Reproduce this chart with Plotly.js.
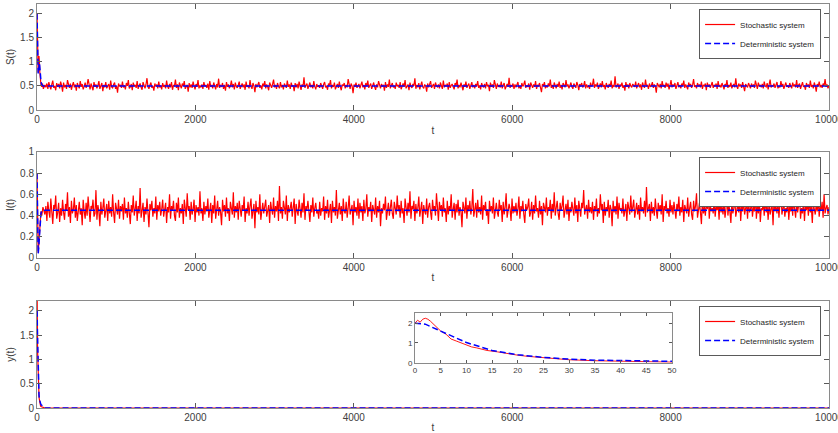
<!DOCTYPE html>
<html>
<head>
<meta charset="utf-8">
<script src="https://cdn.plot.ly/plotly-3.0.1.min.js"></script>
<style>
  html, body { margin: 0; padding: 0; background: #fff; }
  #myDiv { width: 838px; height: 433px; }
</style>
</head>
<body>
<div id="myDiv"></div>
<script>
// early transient of the stochastic S(t) path
let sStartT = [0, 3, 6, 10, 15, 20, 25, 30, 35, 40, 50, 60, 70, 80, 90];
let sStart = [2.0, 1.6, 1.1, 0.85, 0.78, 0.95, 1.12, 1.0, 0.8, 0.62, 0.52, 0.48, 0.55, 0.44, 0.5];

// stochastic S(t) from t = 100 to t = 10000, evenly spaced, in hundredths
let sNoise = [
  52,47,55,44,58,49,43,53,61,46,50,41,56,48,54,45,59,51,38,57,47,52,44,62,49,46,55,42,51,58,47,53,40,56,50,45,60,48,54,43,
  49,57,46,52,64,47,43,55,50,41,58,48,53,45,51,60,44,49,56,39,52,47,58,45,50,54,42,61,48,46,53,57,44,50,36,55,49,52,46,59,
  47,51,43,56,50,62,45,48,54,41,57,49,52,46,60,44,51,55,47,42,58,50,45,53,66,48,44,52,57,46,50,40,55,49,53,45,59,47,51,43,
  56,48,52,45,61,49,44,54,47,58,42,51,50,63,46,53,41,57,48,45,55,50,60,44,49,52,38,56,47,53,46,59,50,43,54,48,62,45,51,47,
  53,44,58,49,51,46,55,42,60,48,52,45,57,50,43,54,47,65,46,51,49,56,44,52,40,58,48,53,45,50,61,47,54,43,57,49,46,52,59,44,
  50,55,47,53,42,59,48,51,45,62,49,44,56,50,37,54,47,52,58,46,51,43,55,49,60,45,53,48,41,57,50,46,54,63,47,52,44,56,49,45,
  58,47,52,43,55,50,46,61,48,53,44,57,49,51,39,56,47,54,45,59,50,42,53,48,68,46,51,55,44,50,57,47,52,45,60,49,43,54,48,51,
  46,56,50,44,53,58,47,49,42,55,51,62,45,52,48,57,43,50,54,46,59,48,41,53,50,56,45,52,47,64,49,44,55,50,35,53,48,57,46,51,
  54,45,50,59,47,52,43,56,49,61,46,51,55,44,50,57,48,42,53,47,60,50,45,54,49,52,40,58,46,53,48,63,45,51,56,47,50,44,57,49,
  52,46,58,43,51,55,48,62,45,50,53,41,57,49,46,54,50,66,44,52,47,56,43,51,59,48,45,53,50,38,55,47,52,60,46,49,54,44,57,50,
  48,53,45,57,50,44,61,47,52,49,55,42,58,46,51,54,48,43,56,50,63,45,52,47,57,49,41,53,48,59,46,51,55,44,50,58,47,52,45,54,
  49,60,46,51,43,56,50,47,54,45,58,49,52,39,57,48,53,46,62,50,44,55,48,51,47,59,45,52,56,43,50,54,48,67,46,51,49,55,44,53,
  47,52,58,45,50,44,56,49,53,61,46,51,48,55,42,57,50,46,53,48,60,44,52,49,56,47,37,54,50,58,45,51,47,55,49,63,46,52,44,57,
  50,45,54,48,59,46,52,43,56,50,47,62,49,53,45,51,57,48,44,55,50,46,58,52,41,54,49,56,47,51,60,45,53,48,50,44,57,49,52,65,
  46,53,49,57,44,51,55,47,60,48,52,43,56,50,46,54,49,61,45,52,48,70,47,50,55,44,53,49,57,46,51,40,58,48,53,45,56,50,47,54,
  52,48,59,45,51,56,47,53,42,57,50,46,63,49,52,44,55,48,51,58,46,53,49,36,56,50,47,54,45,60,49,52,46,57,48,55,43,51,62,47,
  53,49,56,44,51,58,47,52,45,55,50,61,46,53,48,43,57,50,54,46,52,64,48,51,45,56,49,53,47,59,44,52,50,55,41,57,48,53,46,51,
  58,46,52,49,55,44,60,48,51,47,56,50,43,54,49,62,46,52,48,57,45,51,53,47,66,49,44,55,50,52,46,58,48,39,54,50,47,56,51,45,
  55,48,53,46,61,50,44,57,49,52,47,54,45,59,50,48,56,43,52,63,47,51,49,55,46,53,58,45,50,47,60,49,54,44,52,57,48,51,46,56,
  50,45,57,49,53,47,62,46,52,55,44,51,58,48,50,42,56,49,53,46,61,48,52,45,57,50,38,54,49,59,47,52,46,55,50,64,48,53,45,51
];

// deterministic S(t)
let sDetT = [0, 3, 6, 10, 15, 20, 25, 30, 35, 40, 50, 60, 80, 100, 10000];
let sDet = [2.0, 1.55, 1.1, 0.85, 0.76, 0.8, 0.92, 0.98, 0.9, 0.75, 0.6, 0.52, 0.5, 0.5, 0.5];

// early transient of the stochastic I(t) path
let iStartT = [0, 3, 6, 10, 15, 20, 30, 40, 50, 60, 75];
let iStart = [0.8, 0.45, 0.2, 0.06, 0.05, 0.1, 0.25, 0.38, 0.44, 0.4, 0.48];

// stochastic I(t) from t = 100 to t = 10000, in hundredths
let iNoise = [
  41,49,35,53,44,38,56,42,32,50,46,59,37,43,52,34,47,40,55,43,36,51,45,62,39,48,33,54,42,46,57,38,50,35,44,53,41,47,31,55,
  44,37,52,40,58,43,34,49,46,55,39,42,64,36,50,44,30,53,41,47,56,38,45,51,35,54,42,48,39,60,43,33,52,46,41,55,37,49,44,51,
  36,57,42,47,38,53,45,32,50,43,59,40,46,54,35,49,42,66,38,44,52,34,48,41,56,43,29,51,45,54,39,47,42,58,36,50,44,53,40,46,
  55,39,44,52,33,48,43,60,37,49,45,54,40,35,52,43,57,38,47,42,51,32,55,44,39,61,45,49,36,53,41,46,55,34,50,43,48,40,63,42,
  47,35,53,41,49,44,56,38,45,52,33,50,42,59,37,46,54,40,48,43,31,55,44,50,39,57,42,47,35,53,45,41,62,38,49,43,52,36,54,44,
  39,50,45,58,34,47,42,53,40,49,56,37,44,51,28,54,43,48,41,60,36,45,52,42,47,55,39,43,50,33,53,46,41,57,38,49,44,54,35,68,
  42,48,37,54,45,41,59,35,50,43,47,53,39,46,56,32,51,44,40,55,47,38,52,43,61,36,49,45,54,41,34,50,43,57,39,47,52,42,45,37,
  53,40,47,44,58,36,49,42,55,38,45,51,33,54,43,48,40,64,37,46,52,41,49,35,56,44,42,53,38,47,59,41,45,50,31,54,43,48,40,56,
  37,52,43,49,35,55,42,46,60,39,48,44,53,34,50,45,41,57,38,49,43,54,30,47,42,51,45,58,36,44,52,40,48,55,42,37,53,46,41,59,
  44,50,38,54,42,47,33,56,45,40,52,43,63,37,49,46,54,35,51,42,47,58,39,45,53,32,50,44,41,56,38,48,52,43,36,55,45,49,40,61,
  42,35,53,45,50,39,57,43,47,34,54,41,49,45,60,38,46,52,36,51,43,55,40,48,44,29,53,46,42,57,37,50,44,54,41,47,65,39,45,52,
  38,55,43,48,41,59,36,50,45,53,40,46,32,54,44,49,42,57,37,47,52,43,39,55,45,50,34,53,41,48,61,38,44,51,46,35,56,42,49,43,
  52,40,46,58,37,49,44,54,41,33,51,45,48,56,39,43,53,36,50,42,59,44,47,38,54,41,49,31,52,46,43,57,40,48,45,55,37,51,43,62,
  40,47,54,42,36,52,45,49,59,38,44,51,41,55,35,48,43,53,46,40,57,42,50,34,54,45,39,52,47,64,41,46,50,37,55,43,48,42,53,36,
  49,44,56,39,47,42,60,45,51,33,53,40,48,44,55,38,50,46,30,54,43,49,41,58,37,52,45,47,42,56,39,44,51,35,53,47,41,59,43,48,
  55,38,45,52,41,50,36,57,44,48,42,54,39,67,43,46,51,35,53,42,48,40,56,45,37,52,44,50,41,60,34,49,45,54,42,47,39,55,43,50,
  41,53,46,37,51,44,58,40,48,43,55,34,50,45,42,57,39,47,53,41,36,54,44,49,61,38,45,52,43,32,55,42,48,40,53,46,59,37,50,44,
  47,42,55,39,49,45,52,36,57,43,48,41,54,38,46,63,40,50,44,33,53,42,47,56,39,45,51,43,58,35,49,44,54,41,47,52,37,55,43,46,
  53,39,48,44,60,37,50,42,55,34,47,45,52,40,58,43,49,36,54,41,46,51,31,56,44,48,42,53,38,50,65,41,45,52,39,47,43,57,36,49,
  44,51,40,55,46,38,53,43,49,59,37,47,42,54,35,50,45,52,40,57,43,48,33,54,46,41,51,44,56,39,49,45,53,38,60,42,47,50,41,48
];

// deterministic I(t)
let iDetT = [0, 3, 6, 10, 15, 20, 30, 40, 50, 60, 80, 100, 10000];
let iDet = [0.8, 0.45, 0.18, 0.05, 0.04, 0.08, 0.22, 0.36, 0.42, 0.445, 0.45, 0.45, 0.45];

// y(t), stochastic and deterministic (plus the flat tail)
let yStochT = [0, 0.5, 1, 1.5, 2, 2.5, 3, 4, 5, 6, 7, 8, 9, 10, 11, 12, 14, 16, 18, 20, 22, 25, 28, 30, 35, 40, 45, 50, 100, 10000];
let yStoch = [2.0, 2.15, 2.05, 2.2, 2.25, 2.2, 2.1, 1.85, 1.6, 1.45, 1.2, 1.1, 1.0, 0.92, 0.8, 0.75, 0.62, 0.55, 0.45, 0.38, 0.32, 0.25, 0.19, 0.15, 0.1, 0.07, 0.04, 0.03, 0.0, 0.0];
let yDetT = [0, 2, 5, 10, 15, 20, 25, 30, 35, 40, 45, 50, 100, 10000];
let yDet = [2.0, 1.95, 1.6, 1.02, 0.62, 0.4, 0.27, 0.18, 0.13, 0.1, 0.08, 0.07, 0.0, 0.0];

let xTicks = [0, 2000, 4000, 6000, 8000, 10000];
let xTickText = ["0", "2000", "4000", "6000", "8000", "10000"];
let insetTicks = [0, 5, 10, 15, 20, 25, 30, 35, 40, 45, 50];

// time grid for the noisy part (100 .. 10000)
function noiseTimes(n) {
  let t = [];
  for (let i = 0; i < n; i++) t.push(100 + (9900 * i) / (n - 1));
  return t;
}

let sT = sStartT.concat(noiseTimes(sNoise.length));
let sY = sStart.concat(sNoise.map((v) => v / 100));
let iT = iStartT.concat(noiseTimes(iNoise.length));
let iY = iStart.concat(iNoise.map((v) => v / 100));

// fresh line objects per trace so plotly doesn't share state between them
// (width 1.2: at exactly 1px the legend sample in the 3rd panel renders dark)
function red(w) {
  return { color: "#ff0000", width: w || 1.2 };
}
function blue() {
  return { color: "#0000ff", width: 1.5, dash: "6px,3px" };
}

let data = [
  { x: sT, y: sY, xaxis: "x", yaxis: "y", mode: "lines", line: red(), name: "Stochastic system", legend: "legend" },
  { x: sDetT, y: sDet, xaxis: "x", yaxis: "y", mode: "lines", line: blue(), name: "Deterministic system", legend: "legend" },
  { x: iT, y: iY, xaxis: "x2", yaxis: "y2", mode: "lines", line: red(), name: "Stochastic system", legend: "legend2" },
  { x: iDetT, y: iDet, xaxis: "x2", yaxis: "y2", mode: "lines", line: blue(), name: "Deterministic system", legend: "legend2" },
  { x: yStochT, y: yStoch, xaxis: "x3", yaxis: "y3", mode: "lines", line: red(), name: "Stochastic system", legend: "legend3" },
  { x: yDetT, y: yDet, xaxis: "x3", yaxis: "y3", mode: "lines", line: blue(), name: "Deterministic system", legend: "legend3" },
  { x: yStochT.slice(0, 28), y: yStoch.slice(0, 28), xaxis: "x4", yaxis: "y4", mode: "lines", line: red(0.9), showlegend: false },
  { x: yDetT.slice(0, 12), y: yDet.slice(0, 12), xaxis: "x4", yaxis: "y4", mode: "lines", line: blue(), showlegend: false },
];

let font = { family: "Liberation Sans, Arial, sans-serif", size: 10, color: "#404040" };
let smallFont = { family: "Liberation Sans, Arial, sans-serif", size: 8, color: "#404040" };

function xAxis(anchor) {
  return {
    anchor: anchor,
    range: [0, 10000],
    tickvals: xTicks,
    ticktext: xTickText,
    ticklabeloverflow: "allow",
    ticks: "inside",
    ticklen: 5,
    tickcolor: "#5a5a5a",
    showline: true,
    linecolor: "#8a8a8a",
    mirror: "ticks",
    showgrid: false,
    zeroline: false,
    tickfont: font,
    title: { text: "t", font: font, standoff: 2 },
  };
}

function yAxis(domain, anchor, range, ticks, label) {
  return {
    domain: domain,
    anchor: anchor,
    range: range,
    tickvals: ticks,
    ticks: "inside",
    ticklen: 5,
    tickcolor: "#5a5a5a",
    showline: true,
    linecolor: "#8a8a8a",
    mirror: "ticks",
    showgrid: false,
    zeroline: false,
    tickfont: font,
    title: { text: label, font: font, standoff: 3 },
  };
}

function legendAt(y) {
  return {
    x: 0.99,
    y: y,
    xanchor: "right",
    yanchor: "top",
    bgcolor: "#ffffff",
    bordercolor: "#5a5a5a",
    borderwidth: 1,
    font: { family: "Liberation Sans, Arial, sans-serif", size: 8, color: "#262626" },
    itemwidth: 30,
    tracegroupgap: 0,
  };
}

let layout = {
  width: 838,
  height: 433,
  margin: { l: 37, r: 9, t: 4, b: 25 },
  paper_bgcolor: "#ffffff",
  plot_bgcolor: "#ffffff",
  showlegend: true,
  xaxis: xAxis("y"),
  yaxis: yAxis([0.7376, 1.0], "x", [0, 2.2], [0, 0.5, 1, 1.5, 2], "S(t)"),
  xaxis2: xAxis("y2"),
  yaxis2: yAxis([0.3713, 0.6337], "x2", [0, 1], [0, 0.2, 0.4, 0.6, 0.8, 1], "I(t)"),
  xaxis3: xAxis("y3"),
  yaxis3: yAxis([0, 0.2649], "x3", [0, 2.2], [0, 0.5, 1, 1.5, 2], "y(t)"),
  xaxis4: {
    domain: [0.4773, 0.8018],
    anchor: "y4",
    range: [0, 50],
    tickvals: insetTicks,
    ticks: "inside",
    ticklen: 3,
    tickcolor: "#5a5a5a",
    showline: true,
    linecolor: "#8a8a8a",
    mirror: "ticks",
    showgrid: false,
    zeroline: false,
    tickfont: smallFont,
  },
  yaxis4: {
    domain: [0.1121, 0.2344],
    anchor: "x4",
    range: [0, 2.5],
    tickvals: [0, 1, 2],
    ticks: "inside",
    ticklen: 3,
    tickcolor: "#5a5a5a",
    showline: true,
    linecolor: "#8a8a8a",
    mirror: "ticks",
    showgrid: false,
    zeroline: false,
    tickfont: smallFont,
  },
  legend: legendAt(0.9876),
  legend2: legendAt(0.6213),
  legend3: legendAt(0.2525),
};

Plotly.newPlot("myDiv", data, layout, { displayModeBar: false, staticPlot: true });
</script>
</body>
</html>
